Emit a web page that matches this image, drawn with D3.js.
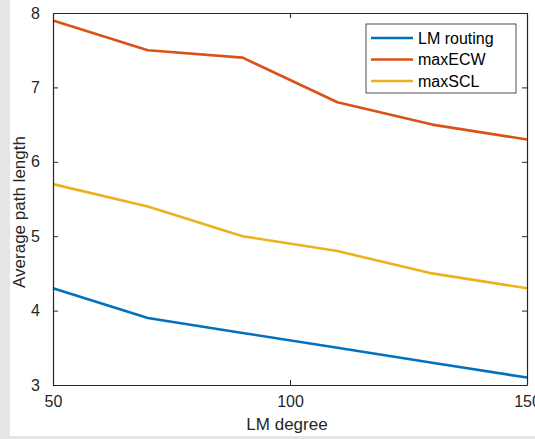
<!DOCTYPE html>
<html>
<head>
<meta charset="utf-8">
<script src="https://cdn.jsdelivr.net/npm/d3@7"></script>
<style>
body { margin: 0; background: #fff; }
svg { display: block; font-family: "Liberation Sans", Arial, sans-serif; }
</style>
</head>
<body>
<svg></svg>
<script>
const degree = [50, 70, 90, 110, 130, 150];
const lmRouting = [4.3, 3.9, 3.7, 3.5, 3.3, 3.1];
const maxECW = [7.9, 7.5, 7.4, 6.8, 6.5, 6.3];
const maxSCL = [5.7, 5.4, 5.0, 4.8, 4.5, 4.3];
const seriesNames = ["LM routing", "maxECW", "maxSCL"];
const xTicks = [50, 100, 150];
const yTicks = [3, 4, 5, 6, 7, 8];

const colors = ["#0072BD", "#D95319", "#EDB120"];
const series = [lmRouting, maxECW, maxSCL].map((vals, i) => ({
  name: seriesNames[i],
  color: colors[i],
  points: vals.map((v, j) => ({ x: degree[j], y: v }))
}));

const W = 535, H = 439;
const margin = { top: 13, right: 8, bottom: 54, left: 53 },
width = W - margin.left - margin.right,
height = H - margin.top - margin.bottom;

const root = d3.select("svg").attr("width", W).attr("height", H);

// light grey screenshot edges
root.append("rect").attr("x", 0).attr("y", 0).attr("width", 10).attr("height", H).attr("fill", "#e6e6e6");
root.append("rect").attr("x", 0).attr("y", 436).attr("width", W).attr("height", 3).attr("fill", "#e6e6e6");

const svg = root.append("g")
.attr("transform", `translate(${margin.left},${margin.top})`);

const x = d3.scaleLinear().domain([50, 150]).range([0, width]);
const y = d3.scaleLinear().domain([3, 8]).range([height, 0]);

const axisColor = "#262626";

// plot lines
const line = d3.line().x(d => x(d.x)).y(d => y(d.y));
svg.selectAll(".series")
.data(series)
.enter().append("path")
.attr("class", "series")
.attr("d", d => line(d.points))
.attr("fill", "none")
.attr("stroke", d => d.color)
.attr("stroke-width", 2.6)
.attr("stroke-linejoin", "round");

// axes (ticks pointing inward, MATLAB style)
const styleAxis = g => {
  g.select(".domain").attr("stroke", axisColor).attr("stroke-width", 1.2);
  g.selectAll(".tick line").attr("stroke", axisColor);
  g.selectAll(".tick text").attr("fill", axisColor).style("font-size", "16px");
};

svg.append("g")
.attr("transform", `translate(0,${height})`)
.call(d3.axisBottom(x).tickValues(xTicks).tickFormat(d3.format("d")).tickSizeInner(-5).tickSizeOuter(0).tickPadding(11))
.call(styleAxis);

svg.append("g")
.call(d3.axisTop(x).tickValues(xTicks).tickSizeInner(-5).tickSizeOuter(0).tickFormat(""))
.call(styleAxis);

svg.append("g")
.call(d3.axisLeft(y).tickValues(yTicks).tickFormat(d3.format("d")).tickSizeInner(-5).tickSizeOuter(0).tickPadding(13))
.call(styleAxis);

svg.append("g")
.attr("transform", `translate(${width},0)`)
.call(d3.axisRight(y).tickValues(yTicks).tickSizeInner(-5).tickSizeOuter(0).tickFormat(""))
.call(styleAxis);

// axis labels
svg.append("text")
.attr("x", width / 2 - 3)
.attr("y", height + 45)
.attr("text-anchor", "middle")
.attr("fill", axisColor)
.style("font-size", "17px")
.text("LM degree");

svg.append("text")
.attr("transform", `translate(${-28},${height / 2 + 13}) rotate(-90)`)
.attr("text-anchor", "middle")
.attr("fill", axisColor)
.style("font-size", "17px")
.text("Average path length");

// legend
const legend = svg.append("g").attr("transform", `translate(${366 - margin.left},${24 - margin.top})`);
legend.append("rect")
.attr("width", 150).attr("height", 69)
.attr("fill", "#fff").attr("stroke", axisColor).attr("stroke-width", 0.8);

const rows = legend.selectAll(".row")
.data(series)
.enter().append("g")
.attr("transform", (d, i) => `translate(0,${14 + i * 21.5})`);

rows.append("line")
.attr("x1", 5).attr("x2", 47)
.attr("stroke", d => d.color)
.attr("stroke-width", 2.6);

rows.append("text")
.attr("x", 52)
.attr("dy", "0.35em")
.attr("fill", "#000")
.style("font-size", "16px")
.text(d => d.name);
</script>
</body>
</html>
